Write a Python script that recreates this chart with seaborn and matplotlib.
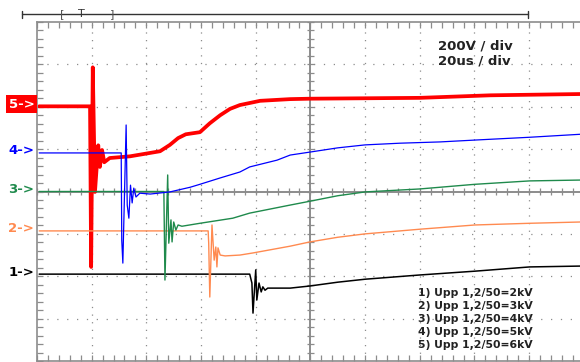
import numpy as np
import pandas as pd
import matplotlib
matplotlib.use("Agg")
import matplotlib.pyplot as plt
import seaborn as sns

# ---- data (screen divisions: x = time div (20 us/div), y = vertical div (200 V/div)) ----
ch5_x = [0.04, 0.97, 0.99, 1.02, 1.06, 1.12, 1.15, 1.19, 1.23, 1.33, 1.70, 2.25, 2.43, 2.58,
         2.72, 2.98, 3.16, 3.35, 3.53, 3.71, 4.08, 4.63, 4.99, 7.00, 8.29, 9.93]
ch5_y = [6.01, 6.01, 2.22, 6.93, 3.99, 5.09, 4.58, 4.98, 4.69, 4.79, 4.83, 4.95, 5.10, 5.26,
         5.35, 5.40, 5.61, 5.80, 5.95, 6.04, 6.14, 6.18, 6.19, 6.21, 6.27, 6.30]

ch4_x = [0.04, 1.54, 1.55, 1.57, 1.63, 1.65, 1.68, 1.71, 1.74, 1.77, 1.81, 1.88, 2.07, 2.43,
         2.80, 2.98, 3.35, 3.71, 3.89, 4.39, 4.63, 4.99, 5.50, 6.00, 6.64, 7.37, 8.10, 9.01, 9.93]
ch4_y = [4.91, 4.91, 2.85, 2.31, 5.57, 3.68, 3.37, 4.15, 3.73, 4.08, 3.87, 3.96, 3.94, 3.99,
         4.10, 4.17, 4.32, 4.46, 4.58, 4.74, 4.86, 4.93, 5.03, 5.10, 5.14, 5.17, 5.22, 5.28, 5.35]

ch3_x = [0.04, 2.32, 2.34, 2.39, 2.41, 2.45, 2.47, 2.50, 2.54, 2.58, 2.65, 2.98, 3.58, 3.89,
         4.63, 4.99, 5.50, 6.00, 7.00, 8.01, 9.01, 9.93]
ch3_y = [4.00, 4.00, 1.91, 4.39, 2.78, 3.33, 2.81, 3.28, 3.09, 3.21, 3.18, 3.25, 3.37, 3.49,
         3.68, 3.77, 3.90, 3.99, 4.06, 4.17, 4.25, 4.27]

ch2_x = [0.04, 3.13, 3.14, 3.16, 3.20, 3.24, 3.27, 3.29, 3.31, 3.35, 3.44, 3.71, 3.95, 4.63,
         4.99, 5.50, 6.00, 7.00, 8.01, 9.01, 9.93]
ch2_y = [3.07, 3.07, 2.78, 1.51, 3.21, 2.38, 2.69, 2.22, 2.67, 2.50, 2.48, 2.50, 2.55, 2.71,
         2.81, 2.92, 3.00, 3.11, 3.21, 3.25, 3.28]

ch1_x = [0.04, 3.89, 3.93, 3.95, 4.00, 4.02, 4.06, 4.10, 4.13, 4.17, 4.22, 4.63, 4.99, 5.50,
         6.00, 7.00, 8.01, 9.01, 9.93]
ch1_y = [2.05, 2.05, 1.84, 1.13, 2.15, 1.44, 1.84, 1.63, 1.75, 1.67, 1.72, 1.72, 1.77, 1.86,
         1.93, 2.03, 2.12, 2.22, 2.24]

channel_labels = ["1->", "2->", "3->", "4->", "5->"]
channel_levels = [2.05, 3.07, 4.00, 4.91, 6.01]
legend_lines = ["1) Upp 1,2/50=2kV", "2) Upp 1,2/50=3kV", "3) Upp 1,2/50=4kV",
                "4) Upp 1,2/50=5kV", "5) Upp 1,2/50=6kV"]
scale_text = ["200V / div", "20us / div"]

# ---- styling ----
sns.set_style("white")
plt.rcParams["font.family"] = ["DejaVu Sans"]

colors = {1: "#000000", 2: "#FF8A50", 3: "#1F8A4C", 4: "#0000FF", 5: "#FF0000"}
widths = {1: 1.1, 2: 1.0, 3: 1.0, 4: 0.9, 5: 2.7}
grey = "#8C8C8C"

fig = plt.figure(figsize=(5.8, 3.62), dpi=100)
ax = fig.add_axes([37 / 580, 1 / 362, 543 / 580, 339 / 362])
XMAX = 9.93
ax.set_xlim(0, XMAX)
ax.set_ylim(0, 8)

# dotted grid
for gx in [1, 2, 3, 4, 6, 7, 8, 9]:
    ax.axvline(gx, color=grey, lw=0.9, ls=(0, (1, 5.1)), zorder=1)
for gy in [1, 2, 3, 5, 6, 7]:
    ax.axhline(gy, color=grey, lw=0.9, ls=(0, (1, 6.9)), zorder=1)

# centre cross with ticks
ax.axvline(5, color=grey, lw=1.4, zorder=1)
ax.axhline(4, color=grey, lw=1.4, zorder=1)
minor_x = np.arange(0, XMAX, 0.2)
minor_y = np.arange(0, 8.01, 0.2)
ax.vlines(minor_x, 4 - 0.09, 4 + 0.09, color=grey, lw=0.9, zorder=1)
ax.hlines(minor_y, 5 - 0.07, 5 + 0.07, color=grey, lw=0.9, zorder=1)

# frame ticks
ax.set_xticks(minor_x)
ax.set_yticks(minor_y)
ax.tick_params(axis="both", direction="in", length=4, width=0.9, color=grey,
               labelbottom=False, labelleft=False, top=True, bottom=True,
               left=True, right=False)
for s in ["left", "top", "bottom"]:
    ax.spines[s].set_color(grey)
    ax.spines[s].set_linewidth(1.2)
ax.spines["right"].set_visible(False)

# traces
series = {1: (ch1_x, ch1_y), 2: (ch2_x, ch2_y), 3: (ch3_x, ch3_y),
          4: (ch4_x, ch4_y), 5: (ch5_x, ch5_y)}
for ch in [1, 2, 3, 5, 4]:
    xs, ys = series[ch]
    df = pd.DataFrame({"t": xs, "v": ys})
    sns.lineplot(data=df, x="t", y="v", ax=ax, sort=False, estimator=None,
                 color=colors[ch], lw=widths[ch], zorder=3 if ch != 5 else 2.5)
ax.set_xlabel("")
ax.set_ylabel("")

# channel markers
for i, (lab, lev) in enumerate(zip(channel_labels, channel_levels)):
    ch = i + 1
    if ch == 5:
        ax.text(-0.04, lev + 0.05, lab, ha="right", va="center", fontsize=9.5,
                fontweight="bold", color="white", clip_on=False,
                bbox=dict(boxstyle="square,pad=0.2", fc="#FF0000", ec="none"))
    else:
        ax.text(-0.05, lev + 0.05, lab, ha="right", va="center", fontsize=9.5,
                fontweight="bold", color=colors[ch], clip_on=False)

# scale text
ax.text(7.34, 7.44, scale_text[0], ha="left", va="center", fontsize=9.5,
        fontweight="bold", color="#222222")
ax.text(7.34, 7.08, scale_text[1], ha="left", va="center", fontsize=9.5,
        fontweight="bold", color="#222222")

# legend text
for k, line in enumerate(legend_lines):
    ax.text(6.97, 1.61 - k * 0.307, line, ha="left", va="center", fontsize=7.8,
            fontweight="bold", color="#222222")

# top trigger bar
ax.plot([-0.27, 8.98], [8.18, 8.18], color="#333333", lw=1.0, clip_on=False)
ax.plot([-0.27, -0.27], [8.10, 8.26], color="#333333", lw=1.0, clip_on=False)
ax.plot([8.98, 8.98], [8.10, 8.26], color="#333333", lw=1.0, clip_on=False)
ax.text(0.46, 8.19, "[", ha="center", va="center", fontsize=8, color="#555555", clip_on=False)
ax.text(0.82, 8.19, "T", ha="center", va="center", fontsize=8, color="#333333", clip_on=False)
ax.text(1.37, 8.19, "]", ha="center", va="center", fontsize=8, color="#555555", clip_on=False)

fig.savefig("out.png", dpi=100)
